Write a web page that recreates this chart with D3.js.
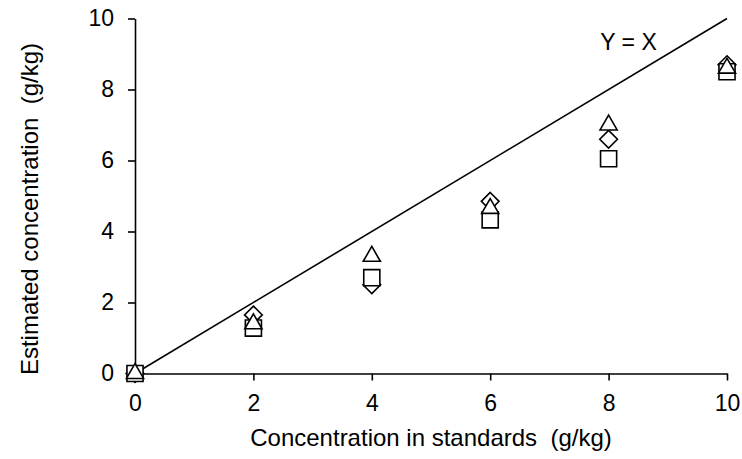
<!DOCTYPE html>
<html>
<head>
<meta charset="utf-8">
<script src="https://cdn.jsdelivr.net/npm/d3@7"></script>
<style>
  body { margin: 0; background: #fff; }
  svg text { font-family: "Liberation Sans", Arial, sans-serif; fill: #000; white-space: pre; }
</style>
</head>
<body>
<svg id="chart" width="742" height="459"></svg>
<script>
let standards = [0, 2, 4, 6, 8, 10];
let diamondValues = [0, 1.65, 2.5, 4.85, 6.6, 8.7];
let squareValues = [0, 1.28, 2.7, 4.33, 6.05, 8.5];
let triangleValues = [0, 1.4, 3.3, 4.65, 7.0, 8.6];
let xTicks = [0, 2, 4, 6, 8, 10];
let yTicks = [0, 2, 4, 6, 8, 10];

let margin = {top: 18.5, right: 15, bottom: 85.5, left: 135};
let width = 742 - margin.left - margin.right;
let height = 459 - margin.top - margin.bottom;

let svg = d3.select("#chart")
    .append("g")
    .attr("transform", "translate(" + margin.left + "," + margin.top + ")");

let x = d3.scaleLinear().domain([0, 10]).range([0, width]);
let y = d3.scaleLinear().domain([0, 10]).range([height, 0]);

// y = x line
svg.append("line")
    .attr("x1", x(0)).attr("y1", y(0))
    .attr("x2", x(10)).attr("y2", y(10))
    .attr("stroke", "#000")
    .attr("stroke-width", 1.6);

svg.append("text")
    .text("Y = X")
    .attr("x", x(7.86))
    .attr("y", y(9.11))
    .attr("font-size", "23px");

let xAxis = svg.append("g")
    .attr("transform", "translate(0," + height + ")")
    .call(d3.axisBottom(x).tickValues(xTicks).tickSize(7).tickPadding(14).tickSizeOuter(0));

let yAxis = svg.append("g")
    .call(d3.axisLeft(y).tickValues(yTicks).tickSize(7).tickPadding(14).tickSizeOuter(0));

[xAxis, yAxis].forEach(a => {
    a.attr("font-family", null).attr("font-size", null);
    a.select(".domain").attr("stroke", "#000").attr("stroke-width", 1.6);
    a.selectAll(".tick line").attr("stroke", "#000").attr("stroke-width", 1.6);
    a.selectAll(".tick text").attr("font-size", "23px");
});

// markers: diamond, square, then triangle on top
let series = [
    {values: diamondValues, symbol: d3.symbolDiamond2, size: 200},
    {values: squareValues, symbol: d3.symbolSquare2, size: 330},
    {values: triangleValues, symbol: d3.symbolTriangle2, size: 210}
];

series.forEach(s => {
    svg.selectAll(null)
        .data(standards)
        .enter().append("path")
        .attr("d", d3.symbol().type(s.symbol).size(s.size))
        .attr("transform", (d, i) => "translate(" + x(d) + "," + y(s.values[i]) + ")")
        .attr("fill", "#fff")
        .attr("stroke", "#000")
        .attr("stroke-width", 1.6);
});

svg.append("text")
    .text("Concentration in standards  (g/kg)")
    .attr("x", 431 - margin.left)
    .attr("y", height + 72)
    .attr("text-anchor", "middle")
    .attr("font-size", "24px");

svg.append("text")
    .text("Estimated concentration  (g/kg)")
    .attr("transform", "translate(" + (37.5 - margin.left) + "," + (209 - margin.top) + ") rotate(-90)")
    .attr("text-anchor", "middle")
    .attr("font-size", "24px");
</script>
</body>
</html>
